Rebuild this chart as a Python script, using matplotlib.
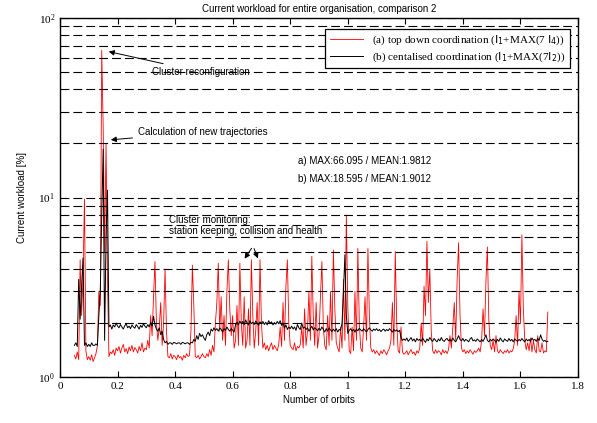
import numpy as np
import matplotlib
matplotlib.use('Agg')
import matplotlib.pyplot as plt

# sampling of the simulation in orbits
orbit_start = 0.05
orbit_step = 0.005

# (a) top down coordination, workload in %
workload_a = [
    1.32, 1.26, 1.38, 1.25, 4.5, 2.2, 3.6, 9.8, 1.4, 1.25,
    1.30, 1.24, 1.33, 1.22, 1.28, 1.35, 1.50, 3.0, 2.5, 66.095,
    25.0, 5.0, 20.0, 3.5, 1.30, 1.38, 1.35, 1.42, 1.32, 1.45,
    1.40, 1.48, 1.36, 1.45, 1.52, 1.38, 1.44, 1.35, 1.47, 1.40,
    1.50, 1.38, 1.46, 1.42, 1.36, 1.48, 1.40, 1.55, 1.38, 1.45,
    1.42, 1.60, 1.45, 2.2, 1.7, 2.8, 4.4, 2.0, 1.6, 1.9,
    2.6, 1.5, 2.0, 4.0, 1.8, 1.30, 1.28, 1.35, 1.26, 1.32,
    1.30, 1.25, 1.33, 1.28, 1.30, 1.24, 1.32, 1.28, 1.35, 1.30,
    1.32, 1.8, 4.2, 2.5, 1.30, 1.28, 1.32, 1.26, 1.30, 1.35,
    1.30, 1.28, 1.35, 1.30, 1.42, 1.32, 1.50, 1.38, 2.0, 2.6,
    4.3, 1.8, 2.8, 1.6, 2.2, 1.5, 3.0, 4.5, 2.4, 1.7,
    2.2, 1.45, 1.6, 2.5, 1.5, 4.3, 2.0, 1.5, 2.8, 1.45,
    1.6, 2.4, 1.5, 4.5, 2.2, 1.45, 1.8, 2.6, 1.5, 4.5,
    2.0, 1.45, 1.55, 1.42, 1.50, 1.40, 1.48, 1.55, 1.42, 1.50,
    1.45, 1.40, 1.52, 1.9, 1.48, 2.6, 1.6, 3.2, 4.5, 2.0,
    1.5, 1.45, 1.42, 1.55, 1.40, 1.48, 1.45, 1.52, 1.9, 1.45,
    2.4, 1.5, 1.8, 3.0, 1.6, 4.7, 2.2, 1.5, 2.6, 1.45,
    1.7, 2.8, 4.4, 1.9, 1.5, 1.42, 2.2, 1.5, 3.0, 1.6,
    5.1, 2.4, 1.55, 1.45, 1.38, 1.9, 1.45, 3.5, 1.6, 8.0,
    2.5, 1.4, 1.35, 1.9, 1.4, 3.0, 1.6, 5.2, 2.0, 1.45,
    1.38, 1.9, 2.8, 1.6, 5.2, 2.2, 1.45, 1.38, 1.42, 1.35,
    1.40, 1.36, 1.32, 1.40, 1.35, 1.42, 1.38, 1.33, 1.40, 1.45,
    1.6, 2.6, 1.5, 5.0, 2.0, 1.40, 1.36, 1.9, 1.38, 1.34,
    1.36, 1.40, 1.33, 1.38, 1.42, 1.35, 1.38, 1.32, 1.40, 1.36,
    1.45, 2.0, 1.5, 3.2, 2.2, 5.7, 2.6, 4.0, 1.8, 1.40,
    1.35, 1.42, 1.36, 1.40, 1.38, 1.33, 1.42, 1.36, 1.40, 1.35,
    1.42, 1.7, 1.45, 1.9, 2.6, 1.6, 3.5, 5.6, 2.2, 1.45,
    1.38, 1.42, 1.35, 1.40, 1.36, 1.42, 1.38, 1.34, 1.40, 1.37,
    1.40, 1.45, 1.38, 1.6, 2.4, 1.7, 3.4, 5.3, 2.1, 1.5,
    1.42, 1.6, 1.38, 1.7, 1.40, 1.36, 1.42, 1.38, 1.35, 1.40,
    1.37, 1.42, 1.36, 1.40, 1.38, 1.44, 1.6, 2.2, 1.5, 3.0,
    2.0, 6.2, 2.4, 1.6, 1.42, 1.55, 1.40, 1.65, 1.38, 1.6,
    1.42, 1.36, 1.7, 1.40, 1.38, 1.55, 1.36, 1.40, 1.38, 2.3,
]

# (b) centralised coordination, workload in %
workload_b = [
    1.50, 1.55, 1.48, 3.5, 2.1, 3.2, 4.6, 1.50, 1.55, 1.48,
    1.52, 1.48, 1.55, 1.50, 1.50, 1.53, 1.50, 2.2, 3.0, 8.0,
    18.595, 1.6, 6.0, 11.0, 1.9, 1.95, 1.85, 1.95, 1.90, 2.00,
    1.92, 1.88, 1.96, 1.90, 1.85, 1.93, 1.98, 1.88, 1.92, 1.86,
    1.95, 1.90, 1.87, 1.96, 1.91, 1.85, 1.94, 1.89, 1.98, 1.92,
    1.88, 1.96, 1.90, 2.02, 1.92, 2.18, 1.95, 1.85, 1.80, 1.88,
    1.72, 1.80, 1.62, 1.55, 1.58, 1.52, 1.55, 1.55, 1.52, 1.56,
    1.55, 1.53, 1.55, 1.55, 1.52, 1.56, 1.55, 1.53, 1.55, 1.55,
    1.52, 1.56, 1.55, 1.62, 1.58, 1.70, 1.62, 1.75, 1.68, 1.72,
    1.65, 1.60, 1.72, 1.78, 1.70, 1.85, 1.80, 1.88, 1.82, 1.86,
    1.80, 1.88, 1.84, 1.78, 1.86, 1.82, 1.90, 1.84, 1.80, 1.86,
    1.82, 1.78, 1.96, 2.02, 1.95, 2.05, 1.98, 2.04, 1.96, 2.08,
    2.00, 1.95, 2.06, 1.98, 2.02, 1.96, 2.05, 2.00, 1.94, 2.03,
    1.98, 2.04, 1.96, 2.02, 1.95, 2.06, 1.99, 2.03, 1.95, 2.01,
    1.97, 2.04, 1.98, 2.06, 1.94, 2.00, 1.88, 1.95, 1.84, 1.90,
    1.86, 1.92, 1.85, 1.90, 1.82, 1.96, 1.88, 1.84, 2.00, 1.87,
    1.90, 1.84, 1.88, 1.80, 1.86, 1.92, 1.83, 1.88, 1.85, 1.81,
    1.87, 1.82, 1.90, 1.84, 1.78, 1.86, 1.80, 1.88, 1.83, 1.79,
    1.85, 1.80, 1.86, 1.78, 1.84, 1.82, 2.0, 3.0, 4.8, 2.2,
    1.75, 1.82, 1.86, 1.80, 1.84, 1.78, 1.85, 1.81, 1.87, 1.83,
    1.80, 1.86, 1.82, 1.78, 1.84, 1.88, 1.83, 1.80, 1.85, 1.82,
    1.86, 1.81, 1.84, 1.79, 1.83, 1.85, 1.80, 1.84, 1.81, 1.86,
    1.82, 1.78, 1.84, 1.80, 1.83, 1.79, 1.82, 1.66, 1.60, 1.63,
    1.60, 1.65, 1.58, 1.62, 1.66, 1.59, 1.63, 1.57, 1.64, 1.60,
    1.62, 1.58, 1.65, 1.60, 1.56, 1.63, 1.59, 1.66, 1.61, 1.58,
    1.64, 1.60, 1.57, 1.63, 1.59, 1.66, 1.60, 1.58, 1.62, 1.64,
    1.59, 1.62, 1.58, 1.65, 1.60, 1.57, 1.63, 1.70, 1.62, 1.59,
    1.64, 1.58, 1.62, 1.60, 1.57, 1.63, 1.66, 1.59, 1.61, 1.58,
    1.63, 1.60, 1.57, 1.62, 1.58, 1.64, 1.72, 1.60, 1.57, 1.62,
    1.59, 1.63, 1.60, 1.56, 1.62, 1.58, 1.65, 1.60, 1.57, 1.63,
    1.60, 1.58, 1.64, 1.59, 1.62, 1.57, 1.63, 1.60, 1.58, 1.62,
    1.59, 1.64, 1.60, 1.57, 1.63, 1.59, 1.62, 1.58, 1.65, 1.60,
    1.62, 1.58, 1.64, 1.60, 1.72, 1.62, 1.58, 1.60, 1.57, 1.58,
]

x_ticks = [0, 0.2, 0.4, 0.6, 0.8, 1.0, 1.2, 1.4, 1.6, 1.8]
x_tick_labels = ['0', '0.2', '0.4', '0.6', '0.8', '1', '1.2', '1.4', '1.6', '1.8']

orbits = orbit_start + orbit_step * np.arange(len(workload_a))

fig = plt.figure(figsize=(5.97, 4.23), dpi=100)
ax = fig.add_axes([0.1005, 0.1087, 0.8677, 0.8487])

ax.plot(orbits, workload_a, color='red', lw=0.6,
        label=r'(a) top down coordination ($\mathrm{I_1}$+MAX(7 $\mathrm{I_4}$))')
ax.plot(orbits, workload_b, color='black', lw=0.7,
        label=r'(b) centalised coordination ($\mathrm{I_1}$+MAX(7$\mathrm{I_2}$))')

ax.set_yscale('log')
ax.set_ylim(1, 100)
ax.set_xlim(0, 1.8)

# dashed horizontal grid on every decade subdivision
ax.grid(True, which='both', axis='y', color='black', lw=0.8,
        linestyle=(0, (8, 3.6)))
ax.set_axisbelow(False)

ax.set_xticks(x_ticks)
ax.set_xticklabels(x_tick_labels, fontfamily='Liberation Serif', fontsize=8)
ax.tick_params(axis='x', direction='in', length=4, top=True, width=0.8)
ax.tick_params(axis='y', which='both', length=0, labelsize=8)
for lab in ax.get_yticklabels():
    lab.set_fontfamily('Liberation Serif')
for side in ax.spines.values():
    side.set_linewidth(1.0)

sans = 'Liberation Sans'
ax.set_title('Current workload for entire organisation, comparison 2',
             fontsize=7, family=sans, pad=4)
ax.set_xlabel('Number of orbits', fontsize=7, family=sans, labelpad=3)
ax.set_ylabel('Current workload [%]', fontsize=7, family=sans, labelpad=8)

leg = ax.legend(loc='upper right', bbox_to_anchor=(0.995, 0.985),
                prop={'family': 'Liberation Serif', 'size': 8},
                frameon=True, fancybox=False, edgecolor='black',
                framealpha=1, handlelength=3, borderpad=0.4,
                labelspacing=0.3)
leg.get_frame().set_linewidth(0.9)

arrow = dict(arrowstyle='-|>', color='black', lw=0.7, mutation_scale=8)
ax.annotate('Cluster reconfiguration', xy=(0.16, 65.5), xytext=(0.32, 50),
            fontsize=7, family=sans, va='center', arrowprops=arrow)
ax.annotate('Calculation of new trajectories', xy=(0.167, 20.9),
            xytext=(0.271, 23.2), fontsize=7, family=sans, va='center',
            arrowprops=arrow)
ax.text(0.827, 16.0, 'a) MAX:66.095 / MEAN:1.9812', fontsize=7,
        family=sans, va='center')
ax.text(0.827, 12.7, 'b) MAX:18.595 / MEAN:1.9012', fontsize=7,
        family=sans, va='center')
ax.text(0.379, 7.0, 'Cluster monitoring:\nstation keeping, collision and health',
        fontsize=7, family=sans, va='center', linespacing=1.1)
ax.annotate('', xy=(0.636, 4.43), xytext=(0.671, 5.37), arrowprops=arrow)
ax.annotate('', xy=(0.691, 4.43), xytext=(0.671, 5.37), arrowprops=arrow)

fig.savefig('out.png', dpi=100)
